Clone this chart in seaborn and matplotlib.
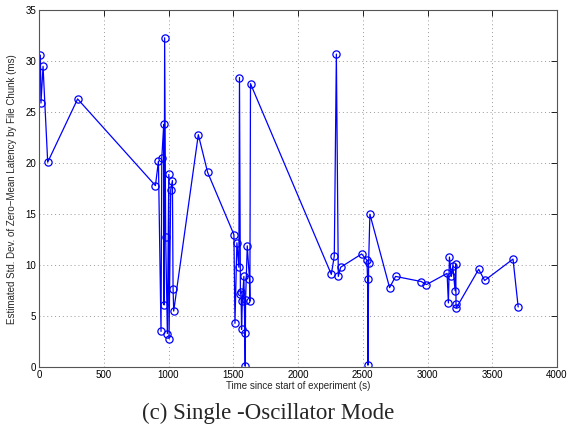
import matplotlib
matplotlib.use("Agg")
import matplotlib.pyplot as plt
import seaborn as sns
import pandas as pd

time_s = [10, 15, 31, 67, 298, 899, 922, 942, 948, 963, 966, 970, 978, 991,
          1002, 1004, 1017, 1030, 1035, 1040, 1230, 1302, 1505, 1513, 1528,
          1543, 1548, 1555, 1560, 1564, 1570, 1582, 1589, 1592, 1595, 1608,
          1625, 1628, 1633, 2257, 2280, 2296, 2311, 2329, 2491, 2532, 2537,
          2540, 2545, 2555, 2707, 2753, 2951, 2992, 3151, 3161, 3169, 3184,
          3195, 3213, 3218, 3220, 3222, 3395, 3441, 3660, 3700]
std_ms = [30.6, 25.9, 29.5, 20.1, 26.3, 17.8, 20.2, 3.5, 20.5, 23.8, 6.1, 32.3,
          12.8, 3.3, 18.9, 2.8, 17.4, 18.3, 7.7, 5.5, 22.8, 19.1, 13.0, 4.3,
          12.2, 9.8, 28.4, 7.2, 7.4, 3.7, 6.5, 8.9, 3.4, 0.1, 6.6, 11.9, 8.6,
          6.5, 27.8, 9.1, 10.9, 30.7, 8.9, 9.8, 11.1, 10.5, 8.6, 0.2, 10.2,
          15.0, 7.8, 8.9, 8.4, 8.1, 9.2, 6.3, 10.8, 8.9, 9.9, 7.5, 10.1, 6.2,
          5.8, 9.6, 8.5, 10.6, 5.9]

x_ticks = [0, 500, 1000, 1500, 2000, 2500, 3000, 3500, 4000]
y_ticks = [0, 5, 10, 15, 20, 25, 30, 35]

df = pd.DataFrame({"t": time_s, "s": std_ms})

sns.set_style("white")
plt.rcParams["font.family"] = ["Liberation Sans", "DejaVu Sans"]

fig = plt.figure(figsize=(5.68, 4.44), dpi=100)
ax = fig.add_axes([0.0687, 0.173, 0.912, 0.804])

sns.lineplot(data=df, x="t", y="s", ax=ax, sort=False, estimator=None,
             color="#0000ff", linewidth=0.9, marker="o", markersize=5.2,
             markerfacecolor="none", markeredgecolor="#0000ff",
             markeredgewidth=0.9)

ax.set_xlim(0, 4000)
ax.set_ylim(0, 35)
ax.set_xticks(x_ticks)
ax.set_yticks(y_ticks)
ax.tick_params(direction="in", top=True, right=True, labelsize=7, length=4,
               width=0.6, colors="#000000", pad=2)
for sp in ax.spines.values():
    sp.set_visible(True)
    sp.set_color("#555555")
    sp.set_linewidth(0.8)
ax.grid(True, linestyle=(0, (1, 3)), color="#999999", linewidth=0.7)
ax.set_axisbelow(True)
ax.set_xlabel("Time since start of experiment (s)", fontsize=7, labelpad=1)
ax.set_ylabel("Estimated Std. Dev. of Zero\u2212Mean Latency by File Chunk (ms)",
              fontsize=7, labelpad=6)

fig.text(0.472, 0.068, "(c) Single -Oscillator Mode", ha="center", va="center",
         fontsize=16.5, family=["Liberation Serif", "DejaVu Serif"])

fig.savefig("out.png", dpi=100)
